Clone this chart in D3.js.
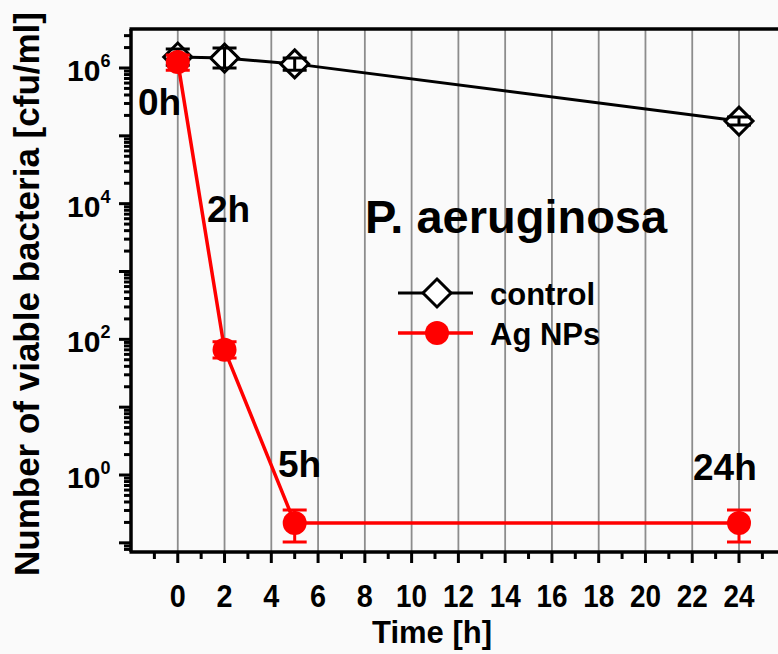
<!DOCTYPE html>
<html>
<head>
<meta charset="utf-8">
<script src="https://cdn.jsdelivr.net/npm/d3@7"></script>
<style>
  body { margin: 0; background: #fafafa; }
  svg text { font-family: "Liberation Sans", Arial, sans-serif; font-weight: bold; fill: #000; }
</style>
</head>
<body>
<div id="root"></div>
<script>
// Data
const hours = [0, 2, 5, 24];
const controlValues = [1.45e6, 1.4e6, 1.15e6, 1.65e5];
const controlLow = [1.1e6, 1.0e6, 9.3e5, 1.44e5];
const controlHigh = [1.9e6, 1.97e6, 1.4e6, 1.9e5];
const agValues = [1.23e6, 70, 0.196, 0.196];
const agLow = [9.3e5, 53, 0.103, 0.103];
const agHigh = [1.55e6, 92, 0.305, 0.305];
const timeLabels = ["0h", "2h", "5h", "24h"];
const xTicks = d3.range(0, 25, 2);

const width = 778;
const height = 654;
const plotLeft = 131, plotTop = 29, plotBottom = 552, plotRight = 778;

const svg = d3.select("#root")
  .append("svg")
  .attr("width", width)
  .attr("height", height);

const x = d3.scaleLinear().domain([-2, 24]).range([plotLeft, 739]);
const y = d3.scaleLog().domain([1, 1e6]).range([475, 68]);

// vertical grid
svg.append("g")
  .selectAll("line")
  .data(xTicks)
  .enter()
  .append("line")
  .attr("x1", (d) => x(d))
  .attr("x2", (d) => x(d))
  .attr("y1", plotTop)
  .attr("y2", plotBottom)
  .attr("stroke", "#8c8c8c")
  .attr("stroke-width", 1.8);

const line = d3.line()
  .x((d) => x(d[0]))
  .y((d) => y(d[1]));

const control = hours.map((h, i) => [h, controlValues[i], controlLow[i], controlHigh[i]]);
const ag = hours.map((h, i) => [h, agValues[i], agLow[i], agHigh[i]]);

function errorBars(sel, color) {
  sel.append("path")
    .attr("d", (d) => {
      const cx = x(d[0]), lo = y(d[2]), hi = y(d[3]);
      return `M${cx},${lo}V${hi}M${cx - 12},${lo}H${cx + 12}M${cx - 12},${hi}H${cx + 12}`;
    })
    .attr("fill", "none")
    .attr("stroke", color)
    .attr("stroke-width", 3);
}

const diamond = (cx, cy, r) => `M${cx},${cy - r}L${cx + r},${cy}L${cx},${cy + r}L${cx - r},${cy}Z`;

// control series
svg.append("path")
  .datum(control)
  .attr("d", line)
  .attr("fill", "none")
  .attr("stroke", "#000")
  .attr("stroke-width", 3);

const ctl = svg.append("g").selectAll("g").data(control).enter().append("g");
ctl.append("path")
  .attr("d", (d) => diamond(x(d[0]), y(d[1]), 14))
  .attr("fill", "#fff")
  .attr("stroke", "#000")
  .attr("stroke-width", 3);
errorBars(ctl, "#000");

// Ag NPs series
svg.append("path")
  .datum(ag)
  .attr("d", line)
  .attr("fill", "none")
  .attr("stroke", "#ff0000")
  .attr("stroke-width", 3.5);

const agG = svg.append("g").selectAll("g").data(ag).enter().append("g");
errorBars(agG, "#ff0000");
agG.append("circle")
  .attr("cx", (d) => x(d[0]))
  .attr("cy", (d) => y(d[1]))
  .attr("r", 12)
  .attr("fill", "#ff0000");

// time labels near the points
const labelPos = [[138, 115], [207, 222], [278, 477], [693, 480]];
svg.append("g")
  .selectAll("text")
  .data(timeLabels)
  .enter()
  .append("text")
  .attr("x", (d, i) => labelPos[i][0])
  .attr("y", (d, i) => labelPos[i][1])
  .attr("font-size", 37)
  .text((d) => d);

svg.append("text")
  .attr("x", 365)
  .attr("y", 233)
  .attr("font-size", 47)
  .text("P. aeruginosa");

// legend
const legend = svg.append("g");
legend.append("line").attr("x1", 398).attr("x2", 473).attr("y1", 293).attr("y2", 293)
  .attr("stroke", "#000").attr("stroke-width", 3);
legend.append("path").attr("d", diamond(437, 293, 14))
  .attr("fill", "#fff").attr("stroke", "#000").attr("stroke-width", 3);
legend.append("text").attr("x", 490).attr("y", 305).attr("font-size", 31).text("control");
legend.append("line").attr("x1", 398).attr("x2", 473).attr("y1", 333).attr("y2", 333)
  .attr("stroke", "#ff0000").attr("stroke-width", 3.5);
legend.append("circle").attr("cx", 437).attr("cy", 333).attr("r", 12).attr("fill", "#ff0000");
legend.append("text").attr("x", 490).attr("y", 345).attr("font-size", 31).text("Ag NPs");

// x axis
const xAxis = svg.append("g");
xAxis.append("line").attr("x1", plotLeft - 1.5).attr("x2", plotRight).attr("y1", plotBottom).attr("y2", plotBottom)
  .attr("stroke", "#000").attr("stroke-width", 3.5);
xAxis.selectAll(".major")
  .data(xTicks)
  .enter()
  .append("line")
  .attr("class", "major")
  .attr("x1", (d) => x(d)).attr("x2", (d) => x(d))
  .attr("y1", plotBottom).attr("y2", plotBottom + 11)
  .attr("stroke", "#000").attr("stroke-width", 3);
xAxis.selectAll(".minor")
  .data(d3.range(-1, 26, 2))
  .enter()
  .append("line")
  .attr("class", "minor")
  .attr("x1", (d) => x(d)).attr("x2", (d) => x(d))
  .attr("y1", plotBottom).attr("y2", plotBottom + 7)
  .attr("stroke", "#000").attr("stroke-width", 3);
xAxis.selectAll("text")
  .data(xTicks)
  .enter()
  .append("text")
  .attr("x", (d) => x(d))
  .attr("y", 607)
  .attr("text-anchor", "middle")
  .attr("font-size", 32)
  .attr("textLength", (d) => (d < 10 ? 16 : 31))
  .attr("lengthAdjust", "spacingAndGlyphs")
  .text((d) => d);

svg.append("text")
  .attr("x", 432)
  .attr("y", 643)
  .attr("text-anchor", "middle")
  .attr("font-size", 31)
  .text("Time [h]");

// top border
svg.append("line").attr("x1", plotLeft - 1.5).attr("x2", plotRight).attr("y1", plotTop).attr("y2", plotTop)
  .attr("stroke", "#000").attr("stroke-width", 3.5);

// y axis
const yAxis = svg.append("g");
yAxis.append("line").attr("x1", plotLeft).attr("x2", plotLeft).attr("y1", plotTop).attr("y2", plotBottom)
  .attr("stroke", "#000").attr("stroke-width", 3.5);
const yMinor = [];
const yMajor = [];
for (let k = -2; k <= 7; k++) {
  yMajor.push(Math.pow(10, k));
  for (let m = 2; m <= 9; m++) yMinor.push(m * Math.pow(10, k));
}
const inFrame = (v) => y(v) >= plotTop + 1 && y(v) <= plotBottom - 1;
yAxis.selectAll(".minor")
  .data(yMinor.filter(inFrame))
  .enter()
  .append("line")
  .attr("class", "minor")
  .attr("x1", plotLeft - 7).attr("x2", plotLeft)
  .attr("y1", (d) => y(d)).attr("y2", (d) => y(d))
  .attr("stroke", "#000").attr("stroke-width", 3);
yAxis.selectAll(".major")
  .data(yMajor.filter(inFrame))
  .enter()
  .append("line")
  .attr("class", "major")
  .attr("x1", plotLeft - 12).attr("x2", plotLeft)
  .attr("y1", (d) => y(d)).attr("y2", (d) => y(d))
  .attr("stroke", "#000").attr("stroke-width", 3);
const yLabels = yAxis.selectAll("text")
  .data([0, 2, 4, 6])
  .enter()
  .append("text")
  .attr("x", 67)
  .attr("y", (d) => y(Math.pow(10, d)) + 13)
  .attr("font-size", 30);
yLabels.append("tspan").text("10");
yLabels.append("tspan")
  .attr("dy", -14)
  .attr("font-size", 18)
  .text((d) => d);

svg.append("text")
  .attr("transform", "translate(39,294) rotate(-90)")
  .attr("text-anchor", "middle")
  .attr("font-size", 35)
  .text("Number of viable bacteria [cfu/ml]");
</script>
</body>
</html>
